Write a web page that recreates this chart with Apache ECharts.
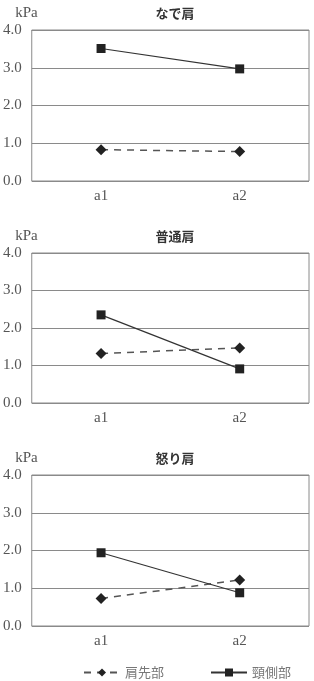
<!DOCTYPE html>
<html><head><meta charset="utf-8">
<script src="https://cdn.jsdelivr.net/npm/echarts@6/dist/echarts.min.js"></script>
<style>html,body{margin:0;padding:0;background:#fff}#c{width:314px;height:681px}</style>
</head><body><div id="c"></div>
<script>
const categories = ['a1', 'a2'];
const panelTitles = ['なで肩', '普通肩', '怒り肩'];
const seriesNames = ['肩先部', '頸側部'];
const katasakiValues = [[0.83, 0.78], [1.32, 1.47], [0.73, 1.22]];
const keisokuValues = [[3.51, 2.97], [2.35, 0.91], [1.94, 0.88]];
const yTicks = [0, 1, 2, 3, 4];
const unitLabel = 'kPa';

const serif = '"Liberation Serif", "DejaVu Serif", serif';
const sans = '"Noto Sans CJK JP", sans-serif';
const gridTops = [30, 253, 475];
const gridH = [151, 150, 151];
const titleTops = [2, 225, 447];

const chart = echarts.init(document.getElementById('c'));
const grids = [], xAxes = [], yAxes = [], series = [], titles = [];
panelTitles.forEach((t, i) => {
  grids.push({left: 31, right: 5, top: gridTops[i], height: gridH[i], show: true, borderColor: '#8a8a8a', borderWidth: 1, containLabel: false});
  titles.push({text: t, left: 170, top: titleTops[i], textAlign: 'center', textStyle: {fontFamily: sans, fontSize: 13, fontWeight: 'bold', color: '#333'}});
  xAxes.push({type: 'category', gridIndex: i, data: categories, boundaryGap: true,
    axisLine: {show: false}, axisTick: {show: false}, splitLine: {show: false},
    axisLabel: {fontFamily: serif, fontSize: 15, color: '#555', margin: 8}});
  yAxes.push({type: 'value', gridIndex: i, min: yTicks[0], max: yTicks[yTicks.length - 1], interval: 1,
    name: unitLabel, nameLocation: 'end', nameGap: 9,
    nameTextStyle: {fontFamily: serif, fontSize: 15, color: '#555', align: 'right', padding: [0, -6, 0, 0]},
    axisLine: {show: false}, axisTick: {show: false},
    splitLine: {lineStyle: {color: '#8a8a8a', width: 1}},
    axisLabel: {fontFamily: serif, fontSize: 15, color: '#555', margin: 10, formatter: v => v.toFixed(1)}});
  series.push({name: seriesNames[0], type: 'line', xAxisIndex: i, yAxisIndex: i, data: katasakiValues[i],
    symbol: 'diamond', symbolSize: 11, itemStyle: {color: '#222'},
    lineStyle: {color: '#555', width: 1.5, type: [7, 6]}, z: 3});
  series.push({name: seriesNames[1], type: 'line', xAxisIndex: i, yAxisIndex: i, data: keisokuValues[i],
    symbol: 'rect', symbolSize: 9, itemStyle: {color: '#222'},
    lineStyle: {color: '#333', width: 1.2, type: 'solid'}, z: 4});
});

chart.setOption({
  animation: false,
  title: titles,
  grid: grids,
  xAxis: xAxes,
  yAxis: yAxes,
  series: series,
  legend: {
    data: seriesNames, top: 661, left: 78, itemWidth: 36, itemHeight: 10, itemGap: 46,
    textStyle: {fontFamily: sans, fontSize: 13, color: '#777'}
  }
});
</script></body></html>
